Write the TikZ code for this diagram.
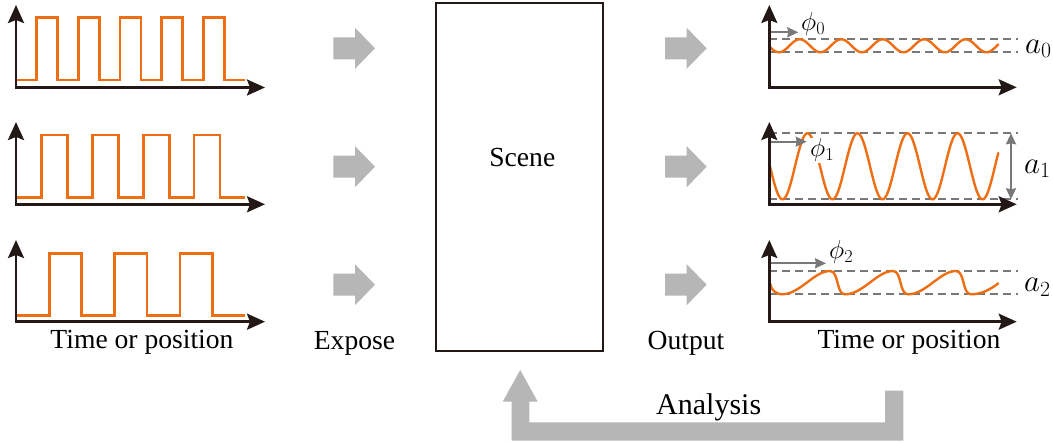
\RequirePackage{fix-cm}
\documentclass[tikz,border=0pt]{standalone}
\usepackage{fontspec}
\setmainfont{Liberation Serif}
\usetikzlibrary{arrows.meta}
\definecolor{axisc}{HTML}{231815}
\definecolor{orangec}{RGB}{238,110,20}
\definecolor{blockgray}{RGB}{182,182,182}
\definecolor{dashc}{RGB}{120,120,120}
\begin{document}
\begin{tikzpicture}[x=1pt,y=-1pt,
  font=\fontsize{27.6}{32}\selectfont,
  axis/.style={line width=2.6pt, draw=axisc,
    {Stealth[length=18pt,width=16pt,inset=3pt]}-{Stealth[length=18pt,width=16pt,inset=3pt]}},
  sq/.style={line width=2.7pt, draw=orangec},
  sw/.style={line width=2.4pt, draw=orangec, line cap=round},
  guide/.style={line width=1.8pt, draw=dashc, dash pattern=on 8pt off 5pt},
  ph/.style={line width=2pt, draw=dashc, -{Stealth[length=11pt,width=10pt,inset=1pt]}},
  amp/.style={line width=2pt, draw=dashc, {Stealth[length=11pt,width=10pt,inset=1pt]}-{Stealth[length=11pt,width=10pt,inset=1pt]}},
  philbl/.style={inner sep=0pt, anchor=base west, font=\fontsize{26}{30}\selectfont},
  albl/.style={inner sep=0pt, anchor=base west, font=\fontsize{31}{34}\selectfont},
  scenebox/.style={draw=axisc, line width=2pt, inner sep=0pt},
  rblock/.pic={\fill[blockgray] (0,-11) -- (21.7,-11) -- (21.7,-20.5) -- (41.7,0) -- (21.7,20.5) -- (21.7,11) -- (0,11) -- cycle;}
]
\useasboundingbox (0,0) rectangle (1053,443);

% ---------- left input panels ----------
\coordinate (lo1) at (16,87.5);  \coordinate (ly1) at (16,5);   \coordinate (lx1) at (265,87.5);
\coordinate (lo2) at (16,204.3); \coordinate (ly2) at (16,122); \coordinate (lx2) at (265,204.3);
\coordinate (lo3) at (16,321.7); \coordinate (ly3) at (16,240); \coordinate (lx3) at (265,321.7);

\draw[sq] (16.7,80) \foreach \k in {0,...,4}{ -- ({36.7+41.65*\k},80) -- ++(0,-62.7) -- ++(21,0) -- ++(0,62.7)} -- (245,80);
\draw[sq] (16.7,197.3) \foreach \k in {0,...,3}{ -- ({41.7+50.8*\k},197.3) -- ++(0,-62.3) -- ++(26,0) -- ++(0,62.3)} -- (245,197.3);
\draw[sq] (16.7,315.7) \foreach \k in {0,...,2}{ -- ({49.3+65.3*\k},315.7) -- ++(0,-62.4) -- ++(32.4,0) -- ++(0,62.4)} -- (245,315.7);

\draw[axis] (ly1) -- (lo1) -- (lx1);
\draw[axis] (ly2) -- (lo2) -- (lx2);
\draw[axis] (ly3) -- (lo3) -- (lx3);

\node[anchor=base] (tl) at (142,349) {Time or position};

% ---------- gray block arrows ----------
\pic (e1) at (333.3,48.3) {rblock};
\pic (e2) at (333.3,166.7) {rblock};
\pic (e3) at (333.3,284.7) {rblock};
\pic (o1) at (665,48.3) {rblock};
\pic (o2) at (665,166.7) {rblock};
\pic (o3) at (665,284.7) {rblock};

\node[anchor=base] (expose) at (354.5,350) {Expose};
\node[anchor=base] (output) at (686,350) {Output};

% ---------- scene ----------
\node[scenebox, minimum width=167.6pt, minimum height=347.4pt] (scene) at (519.5,177) {};
\node[anchor=base] (scenelbl) at (522.3,166.7) {Scene};

% ---------- feedback arrow ----------
\fill[blockgray] (885,390.7) -- (903.3,390.7) -- (903.3,440.7) -- (511.7,440.7) -- (511.7,401.7)
  -- (502.7,401.7) -- (520.2,370) -- (537.7,401.7) -- (529.3,401.7) -- (529.3,422.3) -- (885,422.3) -- cycle;
\node[anchor=base, font=\fontsize{30}{34}\selectfont] (analysis) at (708.7,415) {Analysis};

% ---------- right output panels ----------
\coordinate (ro1) at (769.3,87.3);  \coordinate (ry1) at (769.3,5);   \coordinate (rx1) at (1016.7,87.3);
\coordinate (ro2) at (769.3,204.3); \coordinate (ry2) at (769.3,122); \coordinate (rx2) at (1016.7,204.3);
\coordinate (ro3) at (769.3,321.7); \coordinate (ry3) at (769.3,240); \coordinate (rx3) at (1016.7,321.7);

% panel 1
\draw[guide] (769.3,39.3) -- (1018,39.3);
\draw[guide] (769.3,52.3) -- (1018,52.3);
\draw[sw] plot[domain=770:998.3, samples=240, smooth] (\x, {45.8 + 6.5*sin(8.6747*(\x-768.6))});
\coordinate (p0s) at (769.3,32.3); \coordinate (p0e) at (798.3,32.3);
\draw[ph] (p0s) -- (p0e);
\node[philbl] (phi0) at (801,30.5) {$\phi_0$};
\node[albl] (a0) at (1025,53.3) {$a_0$};

% panel 2
\draw[guide] (769.3,133.3) -- (1018,133.3);
\draw[guide] (769.3,199.3) -- (1018,199.3);
\draw[sw] plot[domain=770:998.3, samples=300, smooth] (\x, {166.3 + 33*sin(7.2*(\x-770))});
\coordinate (p1s) at (769.3,141.7); \coordinate (p1e) at (806.7,141.7);
\draw[ph] (p1s) -- (p1e);
\node[philbl, fill=white, inner sep=1pt] (phi1) at (809,157) {$\phi_1$};
\coordinate (a1t) at (1011,133.3); \coordinate (a1b) at (1011,199.3);
\draw[amp] (a1t) -- (a1b);
\node[albl] (a1) at (1024,173.3) {$a_1$};

% panel 3
\draw[guide] (769.3,270.7) -- (1018,270.7);
\draw[guide] (769.3,294.3) -- (1018,294.3);
\draw[sw] (770,283.3) .. controls (771,290) and (776,294.3) .. (782,294.3)
  .. controls (800,294.3) and (814,271) .. (830,271)
  .. controls (839,271) and (836,294.3) .. (845,294.3)
  .. controls (863,294.3) and (877,271) .. (893,271)
  .. controls (902,271) and (899,294.3) .. (908,294.3)
  .. controls (926,294.3) and (940,271) .. (956,271)
  .. controls (965,271) and (962,294.3) .. (971,294.3)
  .. controls (982,294.3) and (991,289) .. (998.3,283.3);
\coordinate (p2s) at (769.3,263.3); \coordinate (p2e) at (826,263.3);
\draw[ph] (p2s) -- (p2e);
\node[philbl] (phi2) at (829,258.8) {$\phi_2$};
\node[albl] (a2) at (1024,291.7) {$a_2$};

\draw[axis] (ry1) -- (ro1) -- (rx1);
\draw[axis] (ry2) -- (ro2) -- (rx2);
\draw[axis] (ry3) -- (ro3) -- (rx3);

\node[anchor=base] (tr) at (909,349) {Time or position};
\end{tikzpicture}
\end{document}
